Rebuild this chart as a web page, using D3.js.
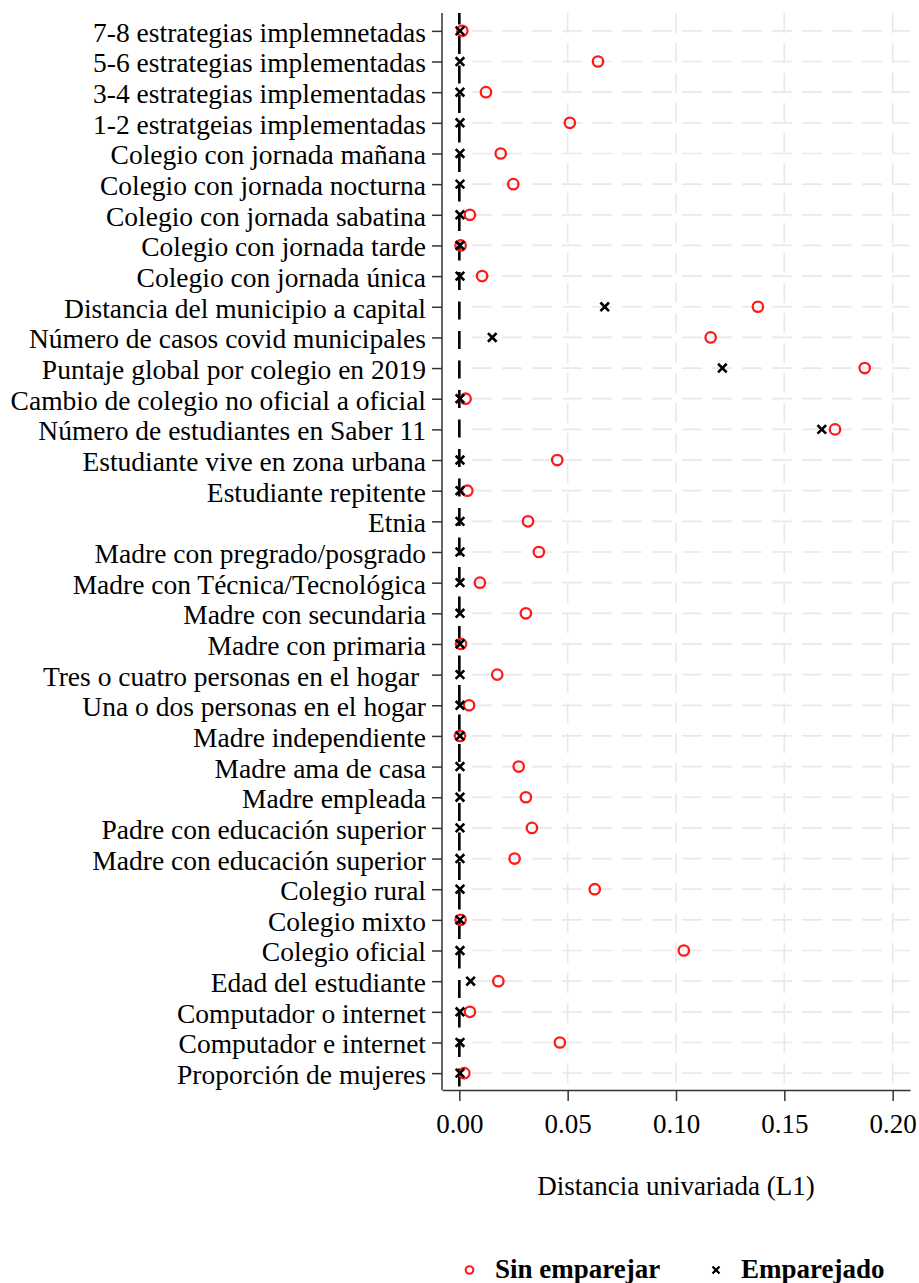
<!DOCTYPE html>
<html>
<head>
<meta charset="utf-8">
<script src="https://cdn.jsdelivr.net/npm/d3@7"></script>
<style>
  body { margin: 0; background: #ffffff; }
</style>
</head>
<body>
<svg id="chart" width="919" height="1283"></svg>
<script>
// Covariates, top to bottom
const covariates = [
  "7-8 estrategias implemnetadas",
  "5-6 estrategias implementadas",
  "3-4 estrategias implementadas",
  "1-2 estratgeias implementadas",
  "Colegio con jornada mañana",
  "Colegio con jornada nocturna",
  "Colegio con jornada sabatina",
  "Colegio con jornada tarde",
  "Colegio con jornada única",
  "Distancia del municipio a capital",
  "Número de casos covid municipales",
  "Puntaje global por colegio en 2019",
  "Cambio de colegio no oficial a oficial",
  "Número de estudiantes en Saber 11",
  "Estudiante vive en zona urbana",
  "Estudiante repitente",
  "Etnia",
  "Madre con pregrado/posgrado",
  "Madre con Técnica/Tecnológica",
  "Madre con secundaria",
  "Madre con primaria",
  "Tres o cuatro personas en el hogar ",
  "Una o dos personas en el hogar",
  "Madre independiente",
  "Madre ama de casa",
  "Madre empleada",
  "Padre con educación superior",
  "Madre con educación superior",
  "Colegio rural",
  "Colegio mixto",
  "Colegio oficial",
  "Edad del estudiante",
  "Computador o internet",
  "Computador e internet",
  "Proporción de mujeres"
];

// Univariate L1 distance before matching
const sinEmparejar = [
  0.0014, 0.0640, 0.0123, 0.0510, 0.0191, 0.0249, 0.0049, 0.0006, 0.0105,
  0.1378, 0.1160, 0.1871, 0.0029, 0.1734, 0.0452, 0.0037, 0.0317, 0.0367,
  0.0095, 0.0307, 0.0008, 0.0175, 0.0045, 0.0003, 0.0274, 0.0307, 0.0335,
  0.0255, 0.0625, 0.0006, 0.1036, 0.0180, 0.0049, 0.0464, 0.0023
];

// Univariate L1 distance after matching
const emparejado = [
  0.0003, 0.0003, 0.0003, 0.0003, 0.0003, 0.0003, 0.0003, 0.0003, 0.0003,
  0.0671, 0.0152, 0.1214, 0.0003, 0.1673, 0.0003, 0.0003, 0.0003, 0.0003,
  0.0003, 0.0003, 0.0003, 0.0003, 0.0003, 0.0003, 0.0003, 0.0003, 0.0003,
  0.0003, 0.0003, 0.0003, 0.0003, 0.0052, 0.0003, 0.0003, 0.0003
];

const xTicks = [0, 0.05, 0.10, 0.15, 0.20];
const xTitle = "Distancia univariada (L1)";
const legendLabels = ["Sin emparejar", "Emparejado"];

const fontFamily = '"Liberation Serif", "Times New Roman", serif';
const red = "#ff1a1a";
const gridColor = "#e9e9e9";
const axisColor = "#333333";

const plot = { left: 442, right: 910, top: 14, bottom: 1090 };

const svg = d3.select("#chart");

const x = d3.scaleLinear()
  .domain([-0.008, 0.208])
  .range([plot.left, plot.right]);

const y = d3.scalePoint()
  .domain(covariates)
  .range([plot.top, plot.bottom])
  .padding(0.55);

// Grid
const grid = svg.append("g");
grid.selectAll("line.hgrid")
  .data(covariates)
  .join("line")
  .attr("class", "hgrid")
  .attr("x1", plot.left + 30)
  .attr("x2", plot.right)
  .attr("y1", d => y(d))
  .attr("y2", d => y(d))
  .attr("stroke", gridColor)
  .attr("stroke-width", 1.7)
  .attr("stroke-dasharray", "20,10");

grid.selectAll("line.vgrid")
  .data(xTicks.filter(t => t > 0))
  .join("line")
  .attr("class", "vgrid")
  .attr("x1", d => x(d))
  .attr("x2", d => x(d))
  .attr("y1", plot.top - 1)
  .attr("y2", plot.bottom)
  .attr("stroke", gridColor)
  .attr("stroke-width", 1.7)
  .attr("stroke-dasharray", "20,10");

// Reference line at zero
svg.append("line")
  .attr("x1", x(0))
  .attr("x2", x(0))
  .attr("y1", plot.top - 1)
  .attr("y2", plot.bottom)
  .attr("stroke", "#000")
  .attr("stroke-width", 2.6)
  .attr("stroke-dasharray", "18,11.5")
  .attr("stroke-dashoffset", 6.5);

// Y axis
const yAxis = svg.append("g")
  .attr("transform", `translate(${plot.left},0)`)
  .call(d3.axisLeft(y).tickSize(10).tickSizeOuter(0).tickPadding(6));
yAxis.select(".domain")
  .attr("d", `M0,${plot.top - 1}V${plot.bottom}`)
  .attr("stroke", axisColor)
  .attr("stroke-width", 1.5);
yAxis.selectAll(".tick line").attr("stroke", axisColor).attr("stroke-width", 1.5);
yAxis.selectAll(".tick text")
  .attr("dy", "0.38em")
  .style("white-space", "pre")
  .attr("fill", "#000")
  .attr("font-family", fontFamily)
  .attr("font-size", 27.5);

// X axis
const xAxis = svg.append("g")
  .attr("transform", `translate(0,${plot.bottom})`)
  .call(d3.axisBottom(x).tickValues(xTicks).tickFormat(d3.format(".2f"))
    .tickSize(11).tickSizeOuter(0).tickPadding(13));
xAxis.select(".domain").attr("stroke", axisColor).attr("stroke-width", 1.5);
xAxis.selectAll(".tick line").attr("stroke", axisColor).attr("stroke-width", 1.5);
xAxis.selectAll(".tick text")
  .attr("fill", "#000")
  .attr("font-family", fontFamily)
  .attr("font-size", 27);

svg.append("text")
  .attr("x", (plot.left + plot.right) / 2)
  .attr("y", 1195)
  .attr("text-anchor", "middle")
  .attr("font-family", fontFamily)
  .attr("font-size", 27)
  .attr("fill", "#000")
  .text(xTitle);

// Markers
const crossPath = s => `M${-s},${-s}L${s},${s}M${-s},${s}L${s},${-s}`;

svg.append("g").selectAll("circle")
  .data(covariates.map((c, i) => ({ c, v: sinEmparejar[i] })))
  .join("circle")
  .attr("cx", d => x(d.v))
  .attr("cy", d => y(d.c))
  .attr("r", 5.2)
  .attr("fill", "none")
  .attr("stroke", red)
  .attr("stroke-width", 2.3);

svg.append("g").selectAll("path")
  .data(covariates.map((c, i) => ({ c, v: emparejado[i] })))
  .join("path")
  .attr("transform", d => `translate(${x(d.v)},${y(d.c)})`)
  .attr("d", crossPath(4.3))
  .attr("fill", "none")
  .attr("stroke", "#000")
  .attr("stroke-width", 2.6);

// Legend
const legend = svg.append("g");
legend.append("circle")
  .attr("cx", 469.5).attr("cy", 1270).attr("r", 3.8)
  .attr("fill", "none").attr("stroke", red).attr("stroke-width", 2.1);
legend.append("text")
  .attr("x", 495).attr("y", 1278)
  .attr("font-family", fontFamily).attr("font-size", 27).attr("font-weight", "bold")
  .attr("fill", "#000")
  .text(legendLabels[0]);
legend.append("path")
  .attr("transform", "translate(716,1270)")
  .attr("d", crossPath(3.5))
  .attr("stroke", "#000").attr("stroke-width", 2.3);
legend.append("text")
  .attr("x", 741).attr("y", 1278)
  .attr("font-family", fontFamily).attr("font-size", 27).attr("font-weight", "bold")
  .attr("fill", "#000")
  .text(legendLabels[1]);
</script>
</body>
</html>
